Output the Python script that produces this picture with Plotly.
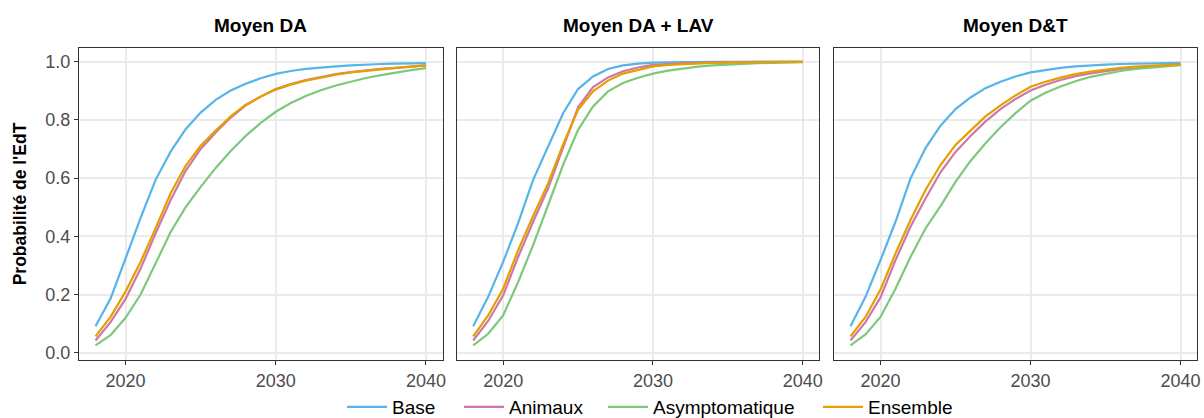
import plotly.graph_objects as go

years = list(range(2018, 2041))

panels = ["Moyen DA", "Moyen DA + LAV", "Moyen D&T"]
series_names = ["Base", "Animaux", "Asymptomatique", "Ensemble"]
colors = {"Base": "#56B4E9", "Animaux": "#CC79A7", "Asymptomatique": "#7DC87D", "Ensemble": "#E69F00"}

# Moyen DA
base_da = [0.091, 0.186, 0.324, 0.463, 0.594, 0.691, 0.768, 0.825, 0.869, 0.901, 0.924, 0.943, 0.958,
           0.968, 0.975, 0.980, 0.984, 0.987, 0.990, 0.992, 0.993, 0.994, 0.995]
animaux_da = [0.042, 0.105, 0.185, 0.289, 0.410, 0.525, 0.625, 0.700, 0.757, 0.808, 0.850, 0.880, 0.906,
              0.923, 0.937, 0.948, 0.957, 0.964, 0.970, 0.975, 0.979, 0.983, 0.987]
asympt_da = [0.025, 0.060, 0.120, 0.200, 0.307, 0.415, 0.500, 0.570, 0.635, 0.693, 0.745, 0.790, 0.828,
             0.858, 0.882, 0.902, 0.918, 0.932, 0.944, 0.954, 0.963, 0.971, 0.978]
ensemble_da = [0.056, 0.123, 0.210, 0.312, 0.428, 0.548, 0.642, 0.711, 0.763, 0.812, 0.852, 0.880, 0.904,
               0.921, 0.935, 0.946, 0.955, 0.963, 0.969, 0.974, 0.979, 0.983, 0.987]

# Moyen DA + LAV
base_lav = [0.091, 0.192, 0.312, 0.445, 0.594, 0.708, 0.823, 0.906, 0.949, 0.975, 0.987, 0.993, 0.997,
            0.998, 0.999, 0.999, 0.999, 0.999, 0.999, 0.999, 0.999, 0.999, 0.999]
animaux_lav = [0.042, 0.109, 0.197, 0.329, 0.450, 0.565, 0.705, 0.843, 0.913, 0.946, 0.967, 0.980, 0.989,
               0.993, 0.995, 0.997, 0.998, 0.998, 0.999, 0.999, 0.999, 0.999, 0.999]
asympt_lav = [0.025, 0.065, 0.128, 0.243, 0.370, 0.508, 0.645, 0.766, 0.846, 0.898, 0.927, 0.945, 0.959,
              0.969, 0.977, 0.983, 0.987, 0.990, 0.993, 0.995, 0.996, 0.997, 0.998]
ensemble_lav = [0.056, 0.128, 0.220, 0.352, 0.470, 0.582, 0.716, 0.835, 0.898, 0.935, 0.959, 0.972, 0.984,
                0.989, 0.992, 0.994, 0.996, 0.997, 0.998, 0.998, 0.999, 0.999, 0.999]

# Moyen D&T
base_dt = [0.091, 0.192, 0.318, 0.450, 0.599, 0.703, 0.780, 0.837, 0.877, 0.909, 0.931, 0.949, 0.963,
           0.972, 0.979, 0.984, 0.988, 0.990, 0.992, 0.993, 0.994, 0.995, 0.996]
animaux_dt = [0.042, 0.105, 0.190, 0.318, 0.433, 0.530, 0.620, 0.690, 0.745, 0.795, 0.837, 0.872, 0.901,
              0.921, 0.937, 0.950, 0.960, 0.968, 0.975, 0.980, 0.984, 0.987, 0.990]
asympt_dt = [0.025, 0.063, 0.123, 0.220, 0.329, 0.427, 0.504, 0.587, 0.659, 0.720, 0.775, 0.823, 0.866,
             0.893, 0.915, 0.933, 0.948, 0.959, 0.968, 0.975, 0.980, 0.985, 0.988]
ensemble_dt = [0.056, 0.123, 0.217, 0.341, 0.456, 0.559, 0.645, 0.714, 0.763, 0.812, 0.850, 0.884, 0.914,
               0.931, 0.945, 0.957, 0.966, 0.973, 0.979, 0.983, 0.986, 0.989, 0.991]

data = {
    "Moyen DA": {"Base": base_da, "Animaux": animaux_da, "Asymptomatique": asympt_da, "Ensemble": ensemble_da},
    "Moyen DA + LAV": {"Base": base_lav, "Animaux": animaux_lav, "Asymptomatique": asympt_lav, "Ensemble": ensemble_lav},
    "Moyen D&T": {"Base": base_dt, "Animaux": animaux_dt, "Asymptomatique": asympt_dt, "Ensemble": ensemble_dt},
}

x_ticks = [2020, 2030, 2040]
y_ticks = [0.0, 0.2, 0.4, 0.6, 0.8, 1.0]

W, H = 1204, 418
ML, MR, MT, MB = 79, 7, 48, 58
plot_w = W - ML - MR
plot_h = H - MT - MB
domains = [
    [0.0, (442.5 - ML) / plot_w],
    [(456.7 - ML) / plot_w, (819.3 - ML) / plot_w],
    [(834.0 - ML) / plot_w, 1.0],
]

FONT = "Liberation Sans, Arial, sans-serif"
legend_ids = {"Base": "legend", "Animaux": "legend2", "Asymptomatique": "legend3", "Ensemble": "legend4"}
legend_x = {"Base": 342, "Animaux": 459, "Asymptomatique": 603, "Ensemble": 818}

fig = go.Figure()

for i, panel in enumerate(panels):
    suffix = "" if i == 0 else str(i + 1)
    for name in series_names:
        fig.add_trace(go.Scatter(
            x=years, y=data[panel][name], mode="lines", name=name,
            line=dict(color=colors[name], width=2.2),
            legend=legend_ids[name], legendgroup=name, showlegend=(i == 0),
            xaxis="x" + suffix, yaxis="y" + suffix,
        ))

axis_common = dict(
    showgrid=True, gridcolor="#EBEBEB", gridwidth=1.5,
    showline=True, linecolor="#333333", linewidth=1.2, mirror=True,
    ticks="outside", ticklen=4, tickwidth=1, tickcolor="#333333",
    tickfont=dict(family=FONT, size=18, color="#4D4D4D"),
    zeroline=False, automargin=False,
)

layout = dict(
    width=W, height=H,
    margin=dict(l=ML, r=MR, t=MT, b=MB, autoexpand=False),
    paper_bgcolor="white", plot_bgcolor="white",
    showlegend=True,
    annotations=[],
)

for name in series_names:
    layout[legend_ids[name]] = dict(
        orientation="h", xref="container", yref="container",
        x=legend_x[name] / W, xanchor="left", y=1 - 407 / H, yanchor="middle",
        font=dict(family=FONT, size=19, color="black"),
        itemwidth=40, bgcolor="rgba(0,0,0,0)", borderwidth=0,
    )

for i, panel in enumerate(panels):
    suffix = "" if i == 0 else str(i + 1)
    layout["xaxis" + suffix] = dict(axis_common, domain=domains[i], range=[2016.9, 2041.1],
                                   tickvals=x_ticks, anchor="y" + suffix)
    ya = dict(axis_common, domain=[0, 1], range=[-0.025, 1.047], tickvals=y_ticks,
              tickformat=".1f", anchor="x" + suffix, showticklabels=(i == 0))
    if i > 0:
        ya["ticks"] = ""
    layout["yaxis" + suffix] = ya
    layout["annotations"].append(dict(
        text="<b>" + panel.replace("&", "&amp;") + "</b>", xref="paper", yref="paper",
        x=(domains[i][0] + domains[i][1]) / 2, y=1 + (48.5 - 26) / plot_h,
        xanchor="center", yanchor="middle", showarrow=False,
        font=dict(family=FONT, size=19, color="black"),
    ))

layout["yaxis"]["title"] = dict(text="<b>Probabilité de l'EdT</b>",
                                font=dict(family=FONT, size=17.5, color="black"), standoff=14)

fig.update_layout(**layout)
fig.write_html(
    "out.html",
    config={"displayModeBar": False},
    post_script="document.body.style.margin='0';document.body.style.padding='0';"
                "document.documentElement.style.overflow='hidden';",
)
